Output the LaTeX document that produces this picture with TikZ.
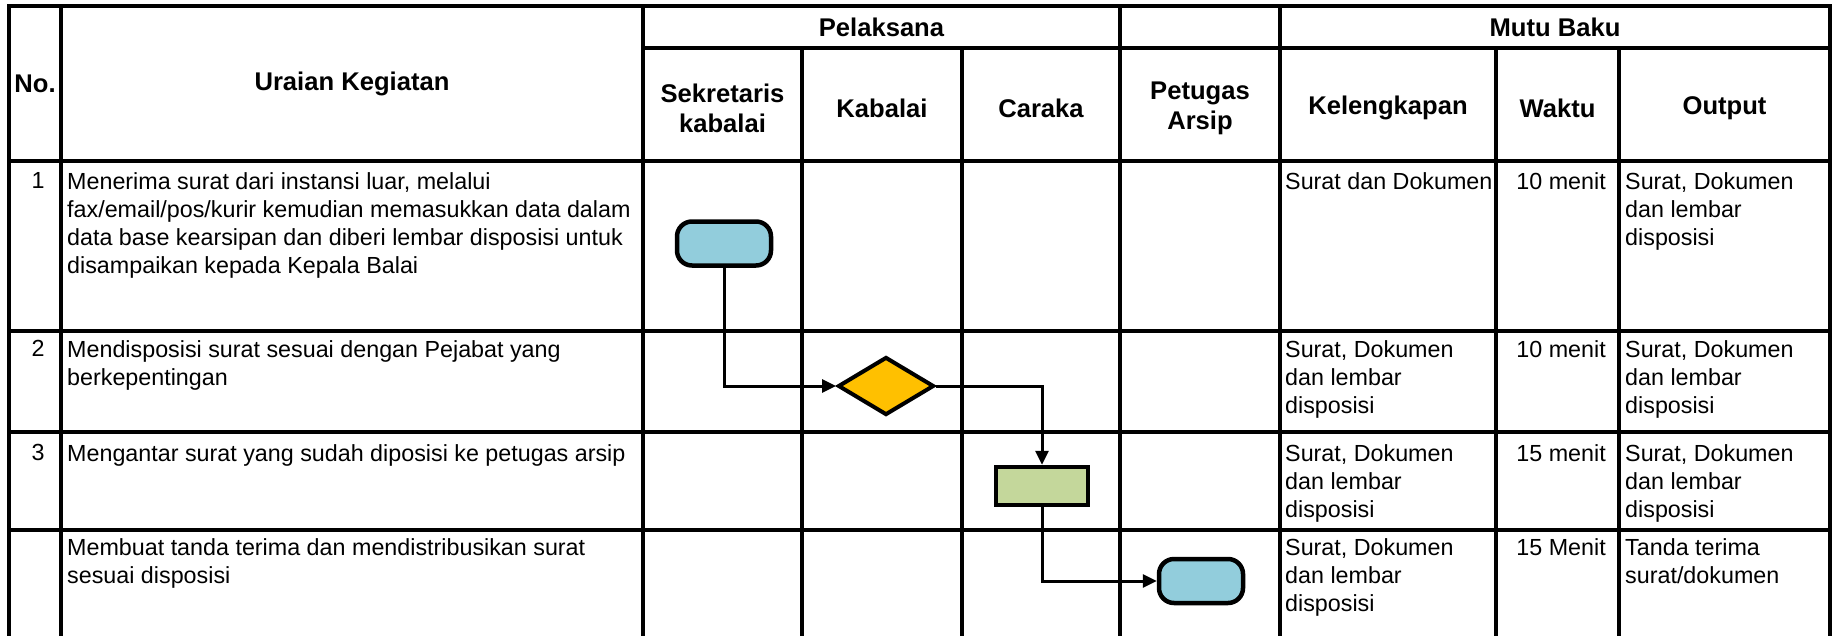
\documentclass[tikz,border=0pt]{standalone}
\usepackage{fontspec}
\setmainfont{Liberation Sans}
\usetikzlibrary{arrows.meta,shapes.geometric}
\definecolor{startblue}{HTML}{92CDDC}
\definecolor{decorange}{HTML}{FFC000}
\definecolor{procgreen}{HTML}{C4D79B}
\begin{document}
\begin{tikzpicture}[x=1pt,y=-1pt,
  grid/.style={line width=3.2pt,line cap=rect},
  hdr/.style={font=\bfseries\fontsize{25.6}{30}\selectfont,align=center,inner sep=0pt},
  body/.style={font=\fontsize{23.3}{28}\selectfont,align=left,inner sep=0pt,anchor=north west},
  bodyr/.style={font=\fontsize{23.3}{28}\selectfont,align=right,inner sep=0pt,anchor=north east},
  numtxt/.style={font=\fontsize{23.3}{28}\selectfont,inner sep=0pt,anchor=north},
  termbox/.style={draw,line width=4.5pt,rounded corners=15pt,fill=startblue,minimum width=#1,minimum height=44pt,inner sep=0pt},
  decbox/.style={draw,line width=4pt,diamond,aspect=1.65,fill=decorange,minimum width=96pt,minimum height=58pt,inner sep=0pt},
  procbox/.style={draw,line width=4.5pt,fill=procgreen,minimum width=92pt,minimum height=38pt,inner sep=0pt},
  flow/.style={line width=3pt,-{Triangle[length=14pt,width=13pt]}}
]
\useasboundingbox (0,0) rectangle (1833,635);
% ---------- grid ----------
\draw[grid] (9,6) -- (1830,6);
\draw[line width=2.5pt] (652,5) -- (1120,5);
\draw[grid] (643,48) -- (1830,48);
\draw[grid] (9,161) -- (1830,161);
\draw[grid] (9,331) -- (1830,331);
\draw[grid] (9,432) -- (1830,432);
\draw[grid] (9,530) -- (1830,530);
\foreach \xx in {9,61,643,1120,1280,1830}
  \draw[grid] (\xx,6) -- (\xx,650);
\foreach \xx in {802,962,1496,1619}
  \draw[grid] (\xx,48) -- (\xx,650);
% ---------- header ----------
\node[hdr] (hno) at (35,84) {No.};
\node[hdr] (hur) at (352,84) {Uraian Kegiatan};
\node[hdr] (hpel) at (881.5,27) {Pelaksana};
\node[hdr] (hmutu) at (1555,27) {Mutu Baku};
\node[hdr] (hsek) at (722.5,108) {Sekretaris\\kabalai};
\node[hdr] (hkab) at (882,108) {Kabalai};
\node[hdr] (hcar) at (1041,108) {Caraka};
\node[hdr] (hpet) at (1200,108) {Petugas\\Arsip};
\node[hdr] (hkel) at (1388,108) {Kelengkapan};
\node[hdr] (hwak) at (1557.5,108) {Waktu};
\node[hdr] (hout) at (1724.5,108) {Output};
% ---------- rows ----------
\node[numtxt] (n1) at (38,172) {1};
\node[body] (u1) at (67,172) {Menerima surat dari instansi luar, melalui\\fax/email/pos/kurir kemudian memasukkan data dalam\\data base kearsipan dan diberi lembar disposisi untuk\\disampaikan kepada Kepala Balai};
\node[body] (k1) at (1285,172) {Surat dan Dokumen};
\node[bodyr] (w1) at (1606,172) {10 menit};
\node[body] (o1) at (1625,172) {Surat, Dokumen\\dan lembar\\disposisi};

\node[numtxt] (n2) at (38,340) {2};
\node[body] (u2) at (67,340) {Mendisposisi surat sesuai dengan Pejabat yang\\berkepentingan};
\node[body] (k2) at (1285,340) {Surat, Dokumen\\dan lembar\\disposisi};
\node[bodyr] (w2) at (1606,340) {10 menit};
\node[body] (o2) at (1625,340) {Surat, Dokumen\\dan lembar\\disposisi};

\node[numtxt] (n3) at (38,444) {3};
\node[body] (u3) at (67,444) {Mengantar surat yang sudah diposisi ke petugas arsip};
\node[body] (k3) at (1285,444) {Surat, Dokumen\\dan lembar\\disposisi};
\node[bodyr] (w3) at (1606,444) {15 menit};
\node[body] (o3) at (1625,444) {Surat, Dokumen\\dan lembar\\disposisi};

\node[body] (u4) at (67,538) {Membuat tanda terima dan mendistribusikan surat\\sesuai disposisi};
\node[body] (k4) at (1285,538) {Surat, Dokumen\\dan lembar\\disposisi};
\node[bodyr] (w4) at (1606,538) {15 Menit};
\node[body] (o4) at (1625,538) {Tanda terima\\surat/dokumen};
% ---------- flow shapes ----------
\node[termbox=94pt] (s1) at (724,243.5) {};
\node[decbox] (d1) at (886,386) {};
\node[procbox] (p1) at (1042,486) {};
\node[termbox=84pt] (e1) at (1201,581) {};
% ---------- connectors ----------
\draw[flow] (s1.south) |- (d1.west);
\draw[flow] (d1.east) -| (p1.north);
\draw[flow] (p1.south) |- (e1.west);
\end{tikzpicture}
\end{document}
